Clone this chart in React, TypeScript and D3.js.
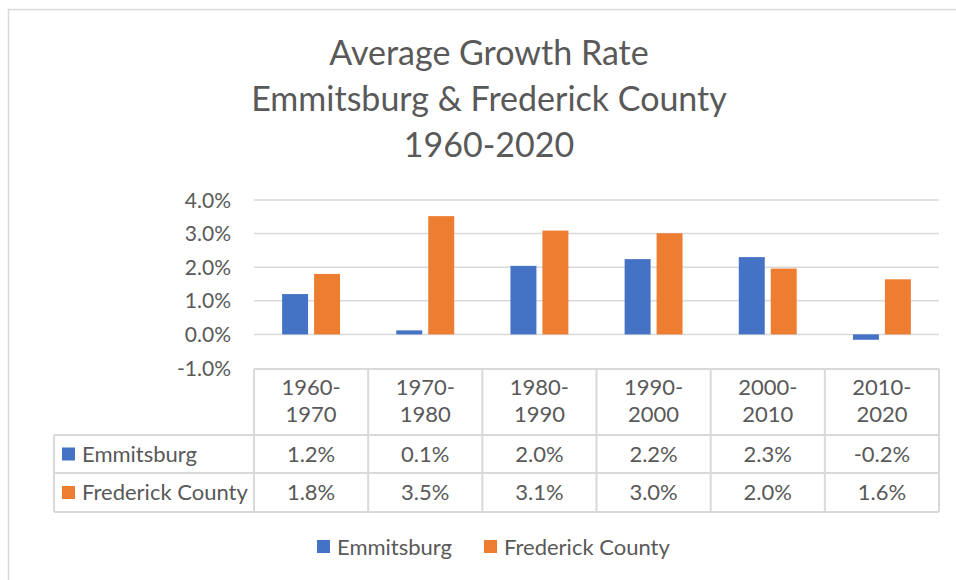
import React from "react";
import * as d3 from "d3";

const periods = ["1960-1970", "1970-1980", "1980-1990", "1990-2000", "2000-2010", "2010-2020"];
const seriesNames = ["Emmitsburg", "Frederick County"];
const emmitsburg = [1.2, 0.12, 2.04, 2.24, 2.3, -0.16];
const frederick = [1.8, 3.52, 3.09, 3.01, 1.96, 1.64];
const yTicks = [-1, 0, 1, 2, 3, 4];
const titleLines = ["Average Growth Rate", "Emmitsburg & Frederick County", "1960-2020"];
const colors = ["#4472C4", "#ED7D31"];

const W = 956;
const H = 580;
const FONT = "Lato, 'Open Sans', sans-serif";
const TEXT = "#595959";
const GRID = "#d9d9d9";

// plain hyphen for negatives, like Excel
const fmt = (v: number) => d3.format(".1%")(v / 100).replace("\u2212", "-");

export default function App() {
  const series = [emmitsburg, frederick];
  const x0 = d3.scaleBand<string>().domain(periods).range([254, 939]);
  const x1 = d3
    .scaleBand<string>()
    .domain(seriesNames)
    .range([0, x0.bandwidth()])
    .paddingInner(0.1875)
    .paddingOuter(0.88);
  const y = d3.scaleLinear().domain([-1, 4]).range([368, 200]);

  // table rows
  const tableLeft = 54;
  const headTop = 369;
  const headBottom = 435;
  const rowBottoms = [473, 512];

  return (
    <svg
      width={W}
      height={H}
      style={{ position: "absolute", left: 0, top: 0, background: "#fff" }}
      fontFamily={FONT}
    >
      {/* chart area border */}
      <rect x={8.5} y={9.5} width={W + 20} height={H + 20} fill="#fff" stroke={GRID} strokeWidth={1.5} />

      {/* title */}
      {titleLines.map((t, i) => (
        <text key={t} x={489} y={65 + i * 46} textAnchor="middle" fontSize={34} fill={TEXT}>
          {t}
        </text>
      ))}

      {/* gridlines */}
      {yTicks.filter((v) => v > -1).map((v) => (
        <line key={v} x1={254} x2={939} y1={y(v)} y2={y(v)} stroke={GRID} strokeWidth={1.5} />
      ))}
      {yTicks.map((v) => (
        <text key={"t" + v} x={231} y={y(v)} dy="0.36em" textAnchor="end" fontSize={21} fill={TEXT}>
          {fmt(v)}
        </text>
      ))}

      {/* bars */}
      {periods.map((p, i) => (
        <g key={p} transform={`translate(${x0(p)},0)`}>
          {seriesNames.map((s, j) => {
            const v = series[j][i];
            return (
              <rect
                key={s}
                x={x1(s)}
                width={x1.bandwidth()}
                y={Math.min(y(v), y(0))}
                height={Math.abs(y(v) - y(0))}
                fill={colors[j]}
              />
            );
          })}
        </g>
      ))}

      {/* data table */}
      <g stroke={GRID} strokeWidth={2} fill="none">
        <line x1={254} x2={939} y1={headTop} y2={headTop} />
        <line x1={tableLeft} x2={939} y1={headBottom} y2={headBottom} />
        {rowBottoms.map((b) => (
          <line key={b} x1={tableLeft} x2={939} y1={b} y2={b} />
        ))}
        <line x1={tableLeft} x2={tableLeft} y1={headBottom} y2={rowBottoms[1]} />
        {periods.map((p) => (
          <line key={p} x1={x0(p)} x2={x0(p)} y1={headTop} y2={rowBottoms[1]} />
        ))}
        <line x1={939} x2={939} y1={headTop} y2={rowBottoms[1]} />
      </g>
      {periods.map((p) => {
        const cx = (x0(p) as number) + x0.bandwidth() / 2;
        const [a, b] = p.split("-");
        return (
          <g key={p} fontSize={22} fill={TEXT} textAnchor="middle">
            <text x={cx} y={395}>{a + "-"}</text>
            <text x={cx} y={422}>{b}</text>
          </g>
        );
      })}
      {seriesNames.map((s, j) => {
        const top = j === 0 ? headBottom : rowBottoms[0];
        const bottom = rowBottoms[j];
        const mid = (top + bottom) / 2;
        return (
          <g key={s}>
            <rect x={62} y={mid - 6.5} width={13} height={13} fill={colors[j]} />
            <text x={82} y={mid} dy="0.36em" fontSize={22} fill={TEXT}>
              {s}
            </text>
            {periods.map((p, i) => (
              <text
                key={p}
                x={(x0(p) as number) + x0.bandwidth() / 2}
                y={mid}
                dy="0.36em"
                fontSize={22}
                fill={TEXT}
                textAnchor="middle"
              >
                {fmt(series[j][i])}
              </text>
            ))}
          </g>
        );
      })}

      {/* legend */}
      {seriesNames.map((s, j) => {
        const lx = j === 0 ? 317 : 484;
        return (
          <g key={"lg" + s}>
            <rect x={lx} y={540} width={13} height={13} fill={colors[j]} />
            <text x={lx + 20} y={547} dy="0.36em" fontSize={22} fill={TEXT}>
              {s}
            </text>
          </g>
        );
      })}
    </svg>
  );
}
